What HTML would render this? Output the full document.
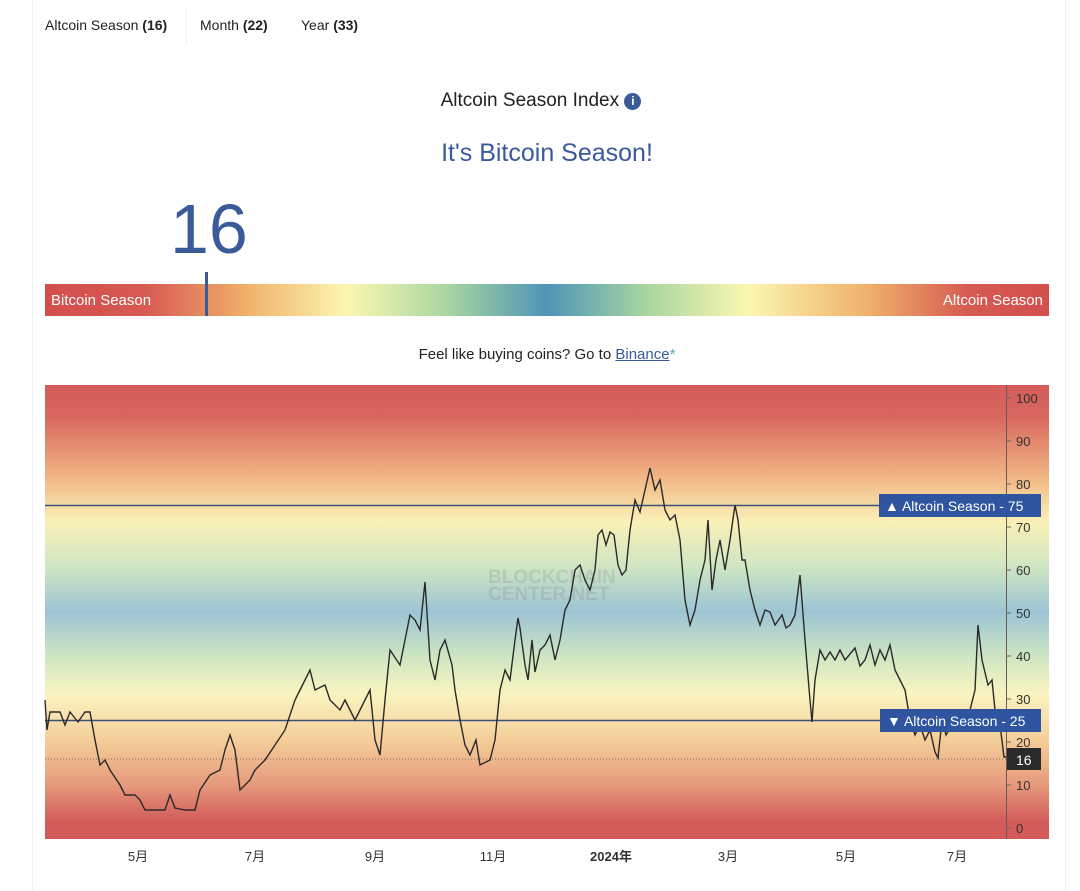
<!DOCTYPE html>
<html><head><meta charset="utf-8"><style>
body{margin:0;width:1080px;height:891px;background:#fff;font-family:"Liberation Sans","Noto Sans CJK SC",sans-serif;position:relative;overflow:hidden;color:#222}
.a{position:absolute}
</style></head><body>
<div class="a" style="left:32px;top:0;width:1032px;height:891px;border-left:1px solid #f0f0f0;border-right:1px solid #f0f0f0"></div>
<div class="a" style="left:45px;top:17px;font-size:14px">Altcoin Season <b>(16)</b></div>
<div class="a" style="left:186px;top:8px;width:1px;height:36px;background:#f0f0f0"></div>
<div class="a" style="left:200px;top:17px;font-size:14px">Month <b>(22)</b></div>
<div class="a" style="left:301px;top:17px;font-size:14px">Year <b>(33)</b></div>
<div class="a" style="left:0;width:1082px;top:90px;text-align:center;font-size:19px">Altcoin Season Index <span style="display:inline-block;width:17px;height:17px;border-radius:50%;background:#3a5a9a;color:#fff;font-size:12px;line-height:17px;font-weight:bold;text-align:center;vertical-align:1px">i</span></div>
<div class="a" style="left:0;width:1094px;top:139px;text-align:center;font-size:25px;color:#3a5a9a">It's Bitcoin Season!</div>
<div class="a" style="left:170px;top:189px;font-size:70px;color:#3a5a9a;line-height:80px">16</div>
<div class="a" style="left:45px;top:284px;width:1004px;height:32px;background:linear-gradient(90deg,#d24f4e 0%,#d65a52 10%,#f0b06a 20%,#fbf7b0 30%,#a9d6a0 40%,#4f95b7 50%,#a9d6a0 60%,#fbf7b0 70%,#f0b06a 82%,#d65a52 92%,#d24f4e 100%)"></div>
<div class="a" style="left:51px;top:292px;color:#fff;font-size:15px">Bitcoin Season</div>
<div class="a" style="right:37px;top:292px;color:#fff;font-size:15px">Altcoin Season</div>
<div class="a" style="left:205px;top:272px;width:3px;height:44px;background:#3a5a9a"></div>
<div class="a" style="left:0;width:1094px;top:346px;text-align:center;font-size:15px">Feel like buying coins? Go to <span style="color:#3a5a9a;text-decoration:underline">Binance</span><span style="color:#5ab">*</span></div>
<svg class="a" style="left:0;top:0" width="1080" height="891">
<defs><linearGradient id="g" x1="0" y1="0" x2="0" y2="1">
<stop offset="0" stop-color="#d35c5a"/><stop offset="0.07" stop-color="#d8675f"/><stop offset="0.2" stop-color="#f0b482"/><stop offset="0.3" stop-color="#faf0b6"/><stop offset="0.4" stop-color="#cfe6c2"/><stop offset="0.5" stop-color="#9cc4d4"/><stop offset="0.6" stop-color="#cfe6c2"/><stop offset="0.68" stop-color="#faf4c0"/><stop offset="0.78" stop-color="#f5cf9a"/><stop offset="0.88" stop-color="#e69a7c"/><stop offset="0.96" stop-color="#d35c5a"/><stop offset="1" stop-color="#d35c5a"/></linearGradient></defs>
<rect x="45" y="385" width="1004" height="454" fill="url(#g)"/>
<text x="488" y="583" font-size="19" font-weight="bold" fill="#888" opacity="0.25" font-family="Liberation Sans">BLOCKCHAIN</text>
<text x="488" y="600" font-size="19" font-weight="bold" fill="#888" opacity="0.25" font-family="Liberation Sans">CENTER.NET</text>
<line x1="45" y1="505.5" x2="1006" y2="505.5" stroke="#3a4f7a" stroke-width="1.5"/>
<line x1="45" y1="720.5" x2="1006" y2="720.5" stroke="#3a4f7a" stroke-width="1.5"/>
<line x1="45" y1="759" x2="1006" y2="759" stroke="#555" stroke-width="0.8" stroke-dasharray="1,2"/>
<polyline fill="none" stroke="#2a2a2a" stroke-width="1.4" points="45,700 47,730 50,712 60,712 65,725 70,712 78,722 85,712 90,712 95,740 100,765 105,760 110,770 120,785 125,795 135,795 140,800 145,810 165,810 170,795 175,808 185,810 195,810 200,790 210,775 220,770 225,750 230,735 235,750 240,790 250,780 255,770 265,760 275,745 285,730 295,700 300,690 305,680 310,670 315,690 325,685 330,700 340,710 345,700 355,720 365,700 370,690 375,740 380,755 385,700 390,650 400,665 405,640 410,615 415,620 420,630 425,582 430,660 435,680 440,650 445,640 452,665 455,690 460,720 465,745 470,755 476,740 480,765 490,760 495,740 500,690 505,670 510,680 515,640 518,618 520,628 525,665 528,680 532,640 535,672 540,650 545,645 550,635 555,660 560,640 565,610 570,600 575,570 580,565 585,580 590,590 595,570 598,535 602,530 606,545 610,532 614,535 618,565 622,575 626,570 630,530 635,500 640,512 645,490 650,468 655,490 660,480 665,510 670,520 675,515 680,540 685,600 690,625 695,610 700,580 705,560 708,520 712,590 716,560 720,540 725,570 730,540 735,505 738,520 742,560 745,560 750,590 755,610 760,625 765,610 770,612 775,625 782,615 786,628 790,625 795,615 800,575 805,640 810,700 812,722 815,680 820,650 825,660 830,652 835,660 840,650 845,660 855,648 860,666 865,660 870,645 875,665 880,650 885,660 890,645 895,670 900,680 905,690 910,720 915,735 920,725 925,740 930,730 935,752 938,758 942,720 946,735 950,728 955,730 960,725 965,722 970,710 975,690 978,625 982,660 988,685 992,680 996,720 1000,725 1004,757 1008,757"/>
<line x1="1006.5" y1="385" x2="1006.5" y2="839" stroke="#6a5a55" stroke-width="1"/>
<g font-size="13" fill="#333" font-family="Liberation Sans">
<text x="1016" y="403">100</text><text x="1016" y="446">90</text><text x="1016" y="489">80</text><text x="1016" y="532">70</text><text x="1016" y="575">60</text><text x="1016" y="618">50</text><text x="1016" y="661">40</text><text x="1016" y="704">30</text><text x="1016" y="747">20</text><text x="1016" y="790">10</text><text x="1016" y="833">0</text>
</g>
<g stroke="#666"><line x1="1006" y1="398" x2="1011" y2="398"/><line x1="1006" y1="441" x2="1011" y2="441"/><line x1="1006" y1="484" x2="1011" y2="484"/><line x1="1006" y1="527" x2="1011" y2="527"/><line x1="1006" y1="570" x2="1011" y2="570"/><line x1="1006" y1="613" x2="1011" y2="613"/><line x1="1006" y1="656" x2="1011" y2="656"/><line x1="1006" y1="699" x2="1011" y2="699"/><line x1="1006" y1="742" x2="1011" y2="742"/><line x1="1006" y1="785" x2="1011" y2="785"/><line x1="1006" y1="828" x2="1011" y2="828"/></g>
<rect x="879" y="494" width="162" height="23" fill="#2f55a0"/>
<text x="885" y="511" font-size="14" fill="#fff" font-family="Liberation Sans">▲ Altcoin Season - 75</text>
<rect x="880" y="709" width="161" height="23" fill="#2f55a0"/>
<text x="887" y="726" font-size="14" fill="#fff" font-family="Liberation Sans">▼ Altcoin Season - 25</text>
<rect x="1007" y="748" width="34" height="22" fill="#2a2a2a"/>
<text x="1016" y="765" font-size="14" fill="#fff" font-family="Liberation Sans">16</text>
<g font-size="13" fill="#333" font-family="Liberation Sans,Noto Sans CJK SC,sans-serif" text-anchor="middle">
<text x="138" y="861">5月</text><text x="255" y="861">7月</text><text x="375" y="861">9月</text><text x="493" y="861">11月</text><text x="611" y="861" font-weight="bold">2024年</text><text x="728" y="861">3月</text><text x="846" y="861">5月</text><text x="957" y="861">7月</text>
</g>
</svg>
</body></html>
